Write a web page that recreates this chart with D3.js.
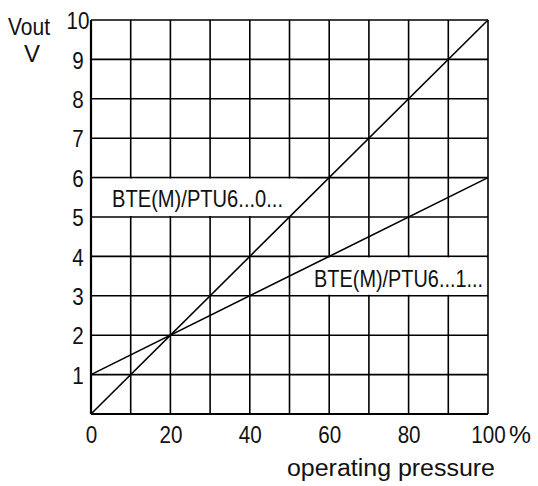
<!DOCTYPE html>
<meta charset="utf-8">
<script src="https://d3js.org/d3.v7.min.js"></script>
<style>
  body { margin: 0; background: #fff; }
  text { font-family: "Liberation Sans", Arial, sans-serif; fill: #111; }
</style>
<body>
<div id="chart"></div>
<script>
    // data
    const pressure = [0, 100];          // operating pressure, %
    const vout0 = [0, 10];              // BTE(M)/PTU6...0...
    const vout1 = [1, 6];               // BTE(M)/PTU6...1...
    const xTicks = [0, 20, 40, 60, 80, 100];
    const yTicks = [1, 2, 3, 4, 5, 6, 7, 8, 9, 10];
    const gridX = d3.range(0, 101, 10);
    const gridY = d3.range(0, 11, 1);
    const seriesNames = ["BTE(M)/PTU6...0...", "BTE(M)/PTU6...1..."];

    let W = 538, H = 486;
    let margin = {top: 20, right: 50, bottom: 72, left: 91},
        width = W - margin.left - margin.right,
        height = H - margin.top - margin.bottom;

    var svg = d3.select("#chart")
        .append("svg")
        .attr("width", W)
        .attr("height", H)
        .append("g")
        .attr("transform", "translate(" + margin.left + "," + margin.top + ")");

    var x = d3.scaleLinear().domain([0, 100]).range([0, width]);
    var y = d3.scaleLinear().domain([0, 10]).range([height, 0]);

    // narrow-looking text: squeeze to a measured width
    function label(px, py, str, size, len, anchor) {
        let t = svg.append("text")
            .attr("x", px)
            .attr("y", py)
            .attr("text-anchor", anchor || "start")
            .style("font-size", size + "px")
            .text(str);
        if (len) t.attr("textLength", len).attr("lengthAdjust", "spacingAndGlyphs");
        return t;
    }

    // grid
    svg.append("g")
        .selectAll("line")
        .data(gridX)
        .enter().append("line")
        .attr("x1", d => x(d)).attr("x2", d => x(d))
        .attr("y1", 0).attr("y2", height)
        .style("stroke", "#000").style("stroke-width", 1.6);
    svg.append("g")
        .selectAll("line")
        .data(gridY)
        .enter().append("line")
        .attr("x1", 0).attr("x2", width)
        .attr("y1", d => y(d)).attr("y2", d => y(d))
        .style("stroke", "#000").style("stroke-width", 1.6);

    // white boxes behind the series labels
    const boxes = [
        {x0: 0.4, x1: 52, y0: 5, y1: 6},
        {x0: 52, x1: 99.6, y0: 3, y1: 4}
    ];
    svg.selectAll("rect.box")
        .data(boxes)
        .enter().append("rect")
        .attr("x", d => x(d.x0))
        .attr("y", d => y(d.y1) + 1)
        .attr("width", d => x(d.x1) - x(d.x0))
        .attr("height", d => y(d.y0) - y(d.y1) - 2)
        .style("fill", "#fff");

    label(x(5.3), 207 - margin.top, seriesNames[0], 24, 171);
    label(x(56.2), 287 - margin.top, seriesNames[1], 24, 169);

    // lines
    var line = d3.line().x(d => x(d[0])).y(d => y(d[1]));
    [vout0, vout1].forEach(function (vals) {
        svg.append("path")
            .datum(pressure.map((p, i) => [p, vals[i]]))
            .attr("d", line)
            .style("fill", "none")
            .style("stroke", "#000")
            .style("stroke-width", 1.6);
    });

    // axes
    svg.append("line").attr("x1", 0).attr("x2", 0).attr("y1", 0).attr("y2", height)
        .style("stroke", "#000").style("stroke-width", 2.2);
    svg.append("line").attr("x1", 0).attr("x2", width).attr("y1", height).attr("y2", height)
        .style("stroke", "#000").style("stroke-width", 2.2);

    var xAxis = svg.append("g")
        .attr("transform", "translate(0," + height + ")")
        .call(d3.axisBottom(x).tickValues(xTicks).tickSize(0).tickPadding(0));
    xAxis.select(".domain").remove();
    xAxis.selectAll("text")
        .style("font-size", "24px").style("font-family", null)
        .attr("y", 443 - margin.top - height).attr("dy", null)
        .attr("transform", "scale(0.86,1)");

    var yAxis = svg.append("g")
        .call(d3.axisLeft(y).tickValues(yTicks).tickSize(0).tickPadding(0));
    yAxis.select(".domain").remove();
    yAxis.selectAll("text")
        .style("font-size", "24px").style("font-family", null)
        .attr("text-anchor", "middle")
        .attr("x", -13 / 0.86).attr("dy", "0.36em")
        .attr("transform", "scale(0.86,1)");

    label(x(100) + 21, 443 - margin.top, "%", 24, 22);

    label(29 - margin.left, 35 - margin.top, "Vout", 24, 42, "middle");
    label(32 - margin.left, 62 - margin.top, "V", 24, null, "middle");

    label(391 - margin.left, 476 - margin.top, "operating pressure", 23, 208, "middle");
</script>
</body>
</html>
